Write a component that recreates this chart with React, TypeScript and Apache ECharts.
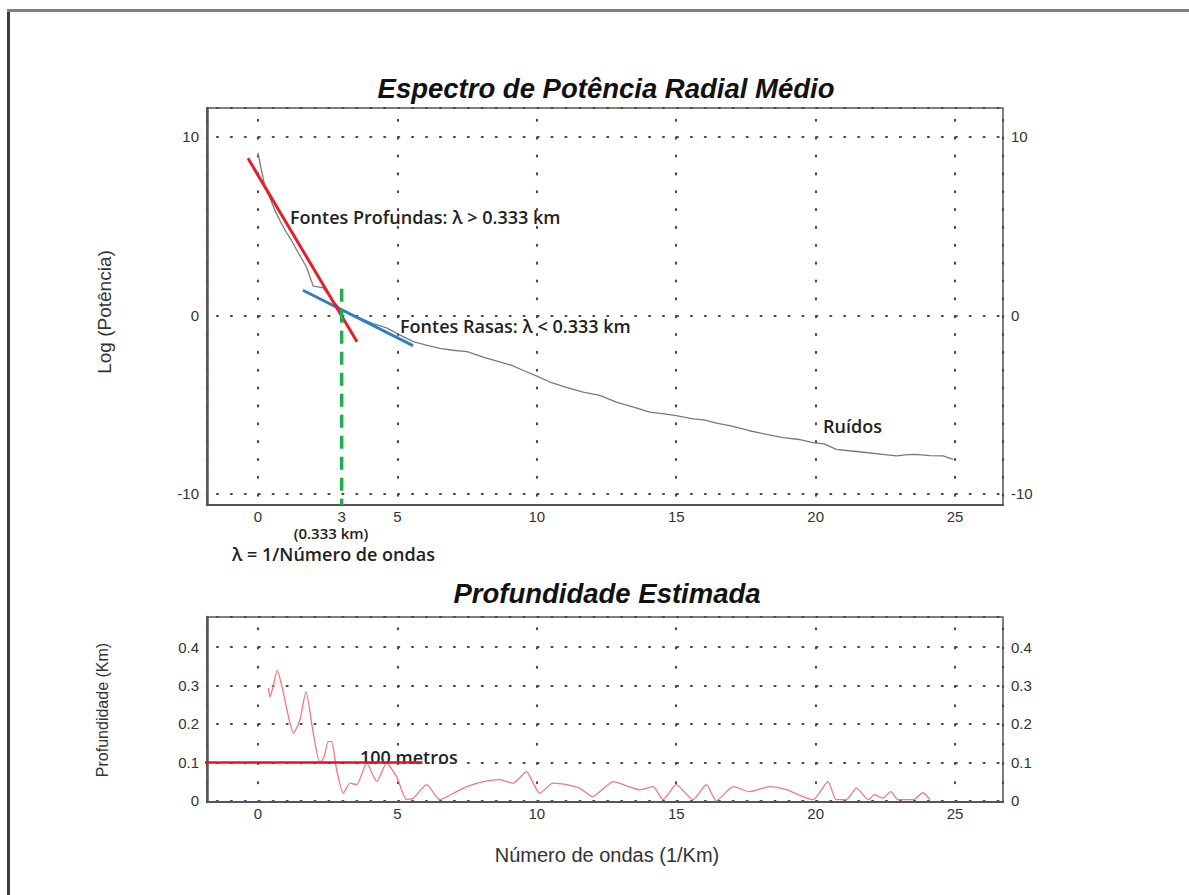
import { useEffect, useRef } from "react";
import * as echarts from "echarts";

// ---- data ----
const spectrumX = [0.0, 0.1, 0.25, 0.45, 0.6, 0.79, 1.0, 1.2, 1.45, 1.74, 1.98, 2.15, 2.34, 2.5, 2.7, 2.94, 3.2, 3.4, 3.66, 4.1, 4.61, 5.1, 5.57, 6.0, 6.52, 7.0, 7.5, 8.1, 8.67, 9.1, 9.5, 10.0, 10.47, 11.0, 11.66, 12.26, 12.85, 13.5, 14.05, 14.5, 14.95, 15.6, 16.0, 16.44, 17.0, 17.63, 18.2, 18.83, 19.4, 19.9, 20.3, 20.74, 21.2, 21.8, 22.4, 22.9, 23.3, 23.6, 24.1, 24.57, 24.93];
const spectrumY = [9.1, 8.3, 7.2, 6.5, 5.9, 5.3, 4.7, 4.2, 3.5, 2.7, 1.64, 1.6, 1.55, 1.2, 0.8, 0.4, 0.2, 0.0, -0.15, -0.45, -0.7, -1.1, -1.47, -1.65, -1.85, -1.95, -2.03, -2.35, -2.6, -2.8, -3.07, -3.4, -3.73, -4.0, -4.3, -4.48, -4.86, -5.15, -5.42, -5.5, -5.6, -5.8, -5.85, -6.03, -6.2, -6.46, -6.65, -6.84, -6.95, -7.12, -7.2, -7.5, -7.58, -7.68, -7.78, -7.87, -7.8, -7.78, -7.85, -7.87, -8.06];

const deepFitX = [-0.36, 3.55];
const deepFitY = [8.8, -1.47];
const shallowFitX = [1.61, 5.56];
const shallowFitY = [1.41, -1.69];
const cutoffX = [3, 3];
const cutoffY = [1.5, -10.62];

const depthX = [0.37, 0.43, 0.55, 0.69, 0.85, 0.97, 1.12, 1.27, 1.5, 1.72, 1.98, 2.22, 2.37, 2.52, 2.64, 2.82, 3.06, 3.3, 3.54, 3.9, 4.26, 4.61, 4.97, 5.33, 5.57, 6.05, 6.52, 7.12, 7.48, 8.08, 8.67, 9.15, 9.63, 9.87, 10.1, 10.58, 11.06, 11.54, 12.0, 12.74, 13.7, 14.17, 14.53, 15.0, 15.6, 16.08, 16.44, 17.04, 17.63, 18.35, 18.95, 19.9, 20.44, 20.74, 21.1, 21.46, 21.9, 22.1, 22.4, 22.7, 22.95, 23.5, 23.85, 24.1];
const depthY = [0.293, 0.27, 0.3, 0.34, 0.3, 0.26, 0.21, 0.176, 0.21, 0.284, 0.176, 0.098, 0.115, 0.154, 0.154, 0.08, 0.02, 0.046, 0.042, 0.098, 0.05, 0.098, 0.063, 0.003, 0.007, 0.042, 0.003, 0.024, 0.037, 0.05, 0.055, 0.046, 0.076, 0.046, 0.02, 0.046, 0.042, 0.033, 0.011, 0.05, 0.029, 0.037, 0.003, 0.042, 0.003, 0.042, 0.0, 0.037, 0.024, 0.037, 0.029, 0.003, 0.05, 0.003, 0.003, 0.033, 0.003, 0.016, 0.007, 0.024, 0.003, 0.003, 0.021, 0.003];

const refLineX = [-2.3, 5.9];
const refLineY = [0.1, 0.1];

const xTicksTop = [0, 3, 5, 10, 15, 20, 25];
const xTicksBottom = [0, 5, 10, 15, 20, 25];
const yTicksTop = [-10, 0, 10];
const yTicksBottom = [0, 0.1, 0.2, 0.3, 0.4];

const zip = (xs: number[], ys: number[]) => xs.map((x, i) => [x, ys[i]]);

const LABEL_FONT = "Liberation Sans, Arial, sans-serif";
const NOTE_FONT = "Open Sans, Noto Sans, sans-serif";

const dotStyle = (period: number, offset: number) => ({
  color: "#4a4a4a",
  width: 2.2,
  type: [1, period - 1],
  cap: "round",
  dashOffset: offset,
});

function makeOption(): any {
  const xBase = (grid: number, ticks: number[], vPeriod: number, vOffset: number) => ({
    gridIndex: grid,
    type: "value",
    min: -1.83,
    max: 26.72,
    splitNumber: 5,
    axisLine: { show: true, onZero: false, lineStyle: { color: "#555", width: 2 } },
    axisTick: { show: false },
    axisLabel: {
      customValues: ticks,
      margin: 4,
      fontSize: 15,
      color: "#333",
      fontFamily: LABEL_FONT,
    },
    splitLine: { show: true, lineStyle: dotStyle(vPeriod, vOffset) },
  });
  const yBase = (grid: number, min: number, max: number, split: number, ticks: number[], pos: "left" | "right") => ({
    gridIndex: grid,
    type: "value",
    position: pos,
    min,
    max,
    splitNumber: split,
    axisLine: pos === "left" ? { show: true, onZero: false, lineStyle: { color: "#555", width: 2.5 } } : { show: false },
    axisTick: { show: false },
    axisLabel: {
      customValues: ticks,
      margin: pos === "left" ? 8 : 8,
      fontSize: 15,
      color: "#333",
      fontFamily: LABEL_FONT,
    },
    splitLine: pos === "left" ? { show: true, lineStyle: dotStyle(13.94, 4.3) } : { show: false },
  });

  return {
    animation: false,
    backgroundColor: "#ffffff",
    grid: [
      { left: 207, top: 108, width: 796, height: 397, show: true, borderColor: "#555", borderWidth: 1.5, backgroundColor: "transparent" },
      { left: 207, top: 617, width: 796, height: 185, show: true, borderColor: "#555", borderWidth: 1.5, backgroundColor: "transparent" },
    ],
    xAxis: [xBase(0, xTicksTop, 17.85, 6.2), xBase(1, xTicksBottom, 19.25, 8.0)],
    yAxis: [
      yBase(0, -10.62, 11.62, 2, yTicksTop, "left"),
      yBase(0, -10.62, 11.62, 2, yTicksTop, "right"),
      yBase(1, -0.003, 0.478, 5, yTicksBottom, "left"),
      yBase(1, -0.003, 0.478, 5, yTicksBottom, "right"),
    ],
    series: [
      {
        name: "Espectro",
        type: "line",
        xAxisIndex: 0,
        yAxisIndex: 0,
        data: zip(spectrumX, spectrumY),
        showSymbol: false,
        lineStyle: { color: "#7a7a7a", width: 1.3 },
        z: 3,
      },
      {
        name: "Fontes Rasas",
        type: "line",
        xAxisIndex: 0,
        yAxisIndex: 0,
        data: zip(shallowFitX, shallowFitY),
        showSymbol: false,
        lineStyle: { color: "#2f7fc1", width: 3 },
        z: 4,
      },
      {
        name: "Fontes Profundas",
        type: "line",
        xAxisIndex: 0,
        yAxisIndex: 0,
        data: zip(deepFitX, deepFitY),
        showSymbol: false,
        lineStyle: { color: "#e4202a", width: 3 },
        z: 5,
      },
      {
        name: "Corte",
        type: "line",
        xAxisIndex: 0,
        yAxisIndex: 0,
        data: zip(cutoffX, cutoffY),
        showSymbol: false,
        lineStyle: { color: "#1fae4b", width: 3.5, type: [13, 8] },
        z: 6,
      },
      {
        name: "Profundidade",
        type: "line",
        xAxisIndex: 1,
        yAxisIndex: 2,
        data: zip(depthX, depthY),
        showSymbol: false,
        smooth: 0.2,
        lineStyle: { color: "#f07a80", width: 1.3 },
        z: 3,
      },
      {
        name: "100 metros",
        type: "line",
        xAxisIndex: 1,
        yAxisIndex: 2,
        data: zip(refLineX, refLineY),
        showSymbol: false,
        clip: false,
        lineStyle: { color: "#e0141e", width: 2.5 },
        z: 5,
      },
    ],
    graphic: [
      { type: "line", shape: { x1: 8.5, y1: 10, x2: 8.5, y2: 895 }, style: { stroke: "#3c3c3c", lineWidth: 3 } },
      { type: "line", shape: { x1: 7, y1: 10.5, x2: 1189, y2: 10.5 }, style: { stroke: "#808080", lineWidth: 3 } },
      {
        type: "text", x: 606, y: 88,
        style: { text: "Espectro de Potência Radial Médio", align: "center", verticalAlign: "middle", font: `italic bold 27.5px ${LABEL_FONT}`, fill: "#111" },
      },
      {
        type: "text", x: 607, y: 593,
        style: { text: "Profundidade Estimada", align: "center", verticalAlign: "middle", font: `italic bold 27.5px ${LABEL_FONT}`, fill: "#111" },
      },
      {
        type: "text", x: 104, y: 312, rotation: Math.PI / 2,
        style: { text: "Log (Potência)", align: "center", verticalAlign: "middle", font: `19px ${LABEL_FONT}`, fill: "#333" },
      },
      {
        type: "text", x: 102, y: 710, rotation: Math.PI / 2,
        style: { text: "Profundidade (Km)", align: "center", verticalAlign: "middle", font: `16px ${LABEL_FONT}`, fill: "#333" },
      },
      {
        type: "text", x: 607, y: 855,
        style: { text: "Número de ondas (1/Km)", align: "center", verticalAlign: "middle", font: `20px ${LABEL_FONT}`, fill: "#333" },
      },
      {
        type: "text", x: 290, y: 217,
        style: { text: "Fontes Profundas: λ > 0.333 km", align: "left", verticalAlign: "middle", font: `600 18px ${NOTE_FONT}`, fill: "#222" },
      },
      {
        type: "text", x: 400, y: 326,
        style: { text: "Fontes Rasas: λ < 0.333 km", align: "left", verticalAlign: "middle", font: `600 18px ${NOTE_FONT}`, fill: "#222" },
      },
      {
        type: "text", x: 823, y: 426,
        style: { text: "Ruídos", align: "left", verticalAlign: "middle", font: `600 18px ${NOTE_FONT}`, fill: "#222" },
      },
      {
        type: "text", x: 331, y: 533,
        style: { text: "(0.333 km)", align: "center", verticalAlign: "middle", font: `600 15px ${NOTE_FONT}`, fill: "#222" },
      },
      {
        type: "text", x: 232, y: 554,
        style: { text: "λ = 1/Número de ondas", align: "left", verticalAlign: "middle", font: `600 18px ${NOTE_FONT}`, fill: "#222" },
      },
      {
        type: "text", x: 360, y: 757,
        style: { text: "100 metros", align: "left", verticalAlign: "middle", font: `600 18px ${NOTE_FONT}`, fill: "#222" },
      },
    ],
  };
}

export default function App() {
  const ref = useRef<HTMLDivElement>(null);
  useEffect(() => {
    if (!ref.current) return;
    const chart = echarts.init(ref.current, null, { renderer: "svg" });
    chart.setOption(makeOption());
    return () => chart.dispose();
  }, []);
  return (
    <div
      ref={ref}
      style={{ position: "fixed", left: 0, top: 0, width: 1189, height: 895, background: "#fff" }}
    />
  );
}
